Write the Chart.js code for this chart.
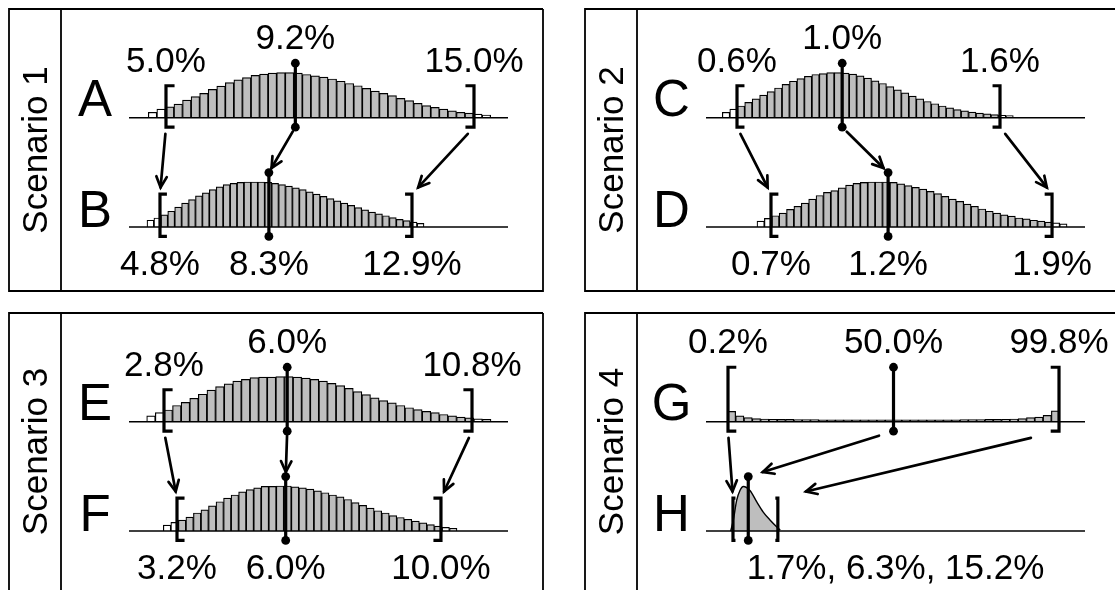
<!DOCTYPE html>
<html>
<head>
<meta charset="utf-8">
<script src="https://cdn.jsdelivr.net/npm/chart.js@4/dist/chart.umd.min.js"></script>
<style>
html,body{margin:0;padding:0;background:#ffffff;}
#wrap{position:relative;width:1115px;height:590px;overflow:hidden;background:#ffffff;}
#wrap canvas{position:absolute;left:0;top:0;}
</style>
</head>
<body>
<div id="wrap">
<canvas id="p1" width="1115" height="590"></canvas>
<canvas id="p2" width="1115" height="590"></canvas>
<canvas id="p3" width="1115" height="590"></canvas>
<canvas id="p4" width="1115" height="590"></canvas>
</div>
<script>
// ---------------- DATA ----------------
const scenarioNames = ['Scenario 1', 'Scenario 2', 'Scenario 3', 'Scenario 4'];
const rowLetters = ['A', 'B', 'C', 'D', 'E', 'F', 'G', 'H'];

// interval values in percent: [lower, median, upper]
const intervalA = [5.0, 9.2, 15.0];
const intervalB = [4.8, 8.3, 12.9];
const intervalC = [0.6, 1.0, 1.6];
const intervalD = [0.7, 1.2, 1.9];
const intervalE = [2.8, 6.0, 10.8];
const intervalF = [3.2, 6.0, 10.0];
const intervalG = [0.2, 50.0, 99.8];
const intervalH = [1.7, 6.3, 15.2];

// histogram bins (percent): first edge and bin width
const binStartA = 4.425,  binWidthA = 0.2779;
const binStartB = 4.382,  binWidthB = 0.2226;
const binStartC = 0.5441, binWidthC = 0.02837;
const binStartD = 0.6402, binWidthD = 0.03152;
const binStartE = 2.3506, binWidthE = 0.22357;
const binStartF = 2.847,  binWidthF = 0.194;
const binStartG = 0,      binWidthG = 2.5;

// relative bar heights (peak = 1)
const heightsA = [0.12,0.19,0.24,0.30,0.39,0.47,0.54,0.63,0.70,0.78,0.84,0.89,0.94,0.97,0.99,1.00,1.00,0.99,0.96,0.93,
                  0.90,0.86,0.81,0.76,0.71,0.65,0.59,0.54,0.49,0.43,0.38,0.32,0.27,0.23,0.19,0.15,0.12,0.10,0.08,0.06];
const heightsB = [0.15,0.20,0.27,0.35,0.44,0.53,0.61,0.69,0.76,0.83,0.89,0.94,0.97,0.99,1.00,1.00,1.00,0.99,0.97,0.94,
                  0.91,0.87,0.83,0.78,0.73,0.68,0.63,0.58,0.53,0.48,0.43,0.38,0.33,0.29,0.25,0.21,0.17,0.14,0.11,0.08];
const heightsC = [0.12,0.19,0.26,0.34,0.42,0.50,0.58,0.66,0.74,0.81,0.87,0.92,0.96,0.98,1.00,1.00,0.99,0.97,0.93,0.88,
                  0.82,0.76,0.69,0.62,0.55,0.48,0.42,0.36,0.31,0.26,0.22,0.18,0.15,0.125,0.10,0.085,0.07,0.055,0.045];
const heightsD = [0.13,0.19,0.25,0.31,0.39,0.46,0.53,0.62,0.70,0.77,0.81,0.87,0.93,0.97,0.99,1.00,1.00,1.00,0.99,0.96,
                  0.92,0.88,0.84,0.79,0.74,0.68,0.62,0.57,0.51,0.46,0.40,0.35,0.31,0.27,0.24,0.20,0.18,0.15,0.13,0.11,0.09,0.07];
const heightsE = [0.13,0.20,0.26,0.36,0.43,0.52,0.61,0.70,0.78,0.84,0.90,0.94,0.98,0.99,0.99,1.00,1.00,0.99,0.97,0.94,
                  0.90,0.85,0.80,0.74,0.67,0.60,0.53,0.47,0.42,0.36,0.31,0.27,0.23,0.20,0.16,0.13,0.10,0.085,0.065,0.05];
const heightsF = [0.13,0.19,0.24,0.31,0.40,0.47,0.56,0.65,0.73,0.80,0.87,0.92,0.96,0.99,0.99,1.00,1.00,0.98,0.96,0.93,
                  0.89,0.85,0.80,0.76,0.70,0.63,0.57,0.51,0.45,0.40,0.34,0.30,0.26,0.22,0.18,0.14,0.11,0.08,0.06];
const heightsG = [0.23,0.13,0.09,0.07,0.06,0.055,0.05,0.05,0.045,0.045,0.045,0.04,0.04,0.04,0.04,0.04,0.04,0.04,0.04,0.04,
                  0.04,0.04,0.04,0.04,0.04,0.04,0.04,0.04,0.045,0.045,0.045,0.05,0.05,0.055,0.06,0.07,0.09,0.10,0.14,0.24];

// density curve of H (percent, relative height)
const curveHx = [1.0, 1.8, 2.8, 3.8, 4.8, 6.8, 8.9, 10.8, 12.9, 14.9, 15.9];
const curveHy = [0.00, 0.24, 0.68, 0.90, 0.99, 0.90, 0.64, 0.42, 0.24, 0.09, 0.02];

// ---------------- LAYOUT / STYLE ----------------
const W = 1115, H = 590, UNIT = 45;
const GRAY = '#bebebe';
const FONT = '"Liberation Sans", Arial, Helvetica, sans-serif';
const layout = [
  {frame:{l:9,t:9,r:543,b:291},   div:61,  area:{l:129,r:508,t:9,b:291},   xTop:[3.799,16.104],  xBot:[3.804,15.986]},
  {frame:{l:585,t:9,r:1130,b:291}, div:637, area:{l:706,r:1085,t:9,b:291},  xTop:[0.4821,1.9232], xBot:[0.4225,2.0407]},
  {frame:{l:9,t:313,r:543,b:600},  div:61,  area:{l:129,r:508,t:313,b:590}, xTop:[1.891,11.735],  xBot:[1.9635,11.727]},
  {frame:{l:585,t:313,r:1130,b:600},div:637, area:{l:706,r:1085,t:313,b:590}, xTop:[-6.42,107.62], xBot:[-6.42,107.62]}
];
const TOP_OFF = 108.7, BOT_OFF = 218;

const panels = [
  {name: scenarioNames[0], letters:[rowLetters[0], rowLetters[1]],
   top:{iv:intervalA, start:binStartA, w:binWidthA, h:heightsA, brUp:0.71},
   bot:{iv:intervalB, start:binStartB, w:binWidthB, h:heightsB, brUp:0.73}},
  {name: scenarioNames[1], letters:[rowLetters[2], rowLetters[3]],
   top:{iv:intervalC, start:binStartC, w:binWidthC, h:heightsC, brUp:0.71},
   bot:{iv:intervalD, start:binStartD, w:binWidthD, h:heightsD, brUp:0.73}},
  {name: scenarioNames[2], letters:[rowLetters[4], rowLetters[5]],
   top:{iv:intervalE, start:binStartE, w:binWidthE, h:heightsE, brUp:0.71},
   bot:{iv:intervalF, start:binStartF, w:binWidthF, h:heightsF, brUp:0.73}},
  {name: scenarioNames[3], letters:[rowLetters[6], rowLetters[7]],
   top:{iv:intervalG, start:binStartG, w:binWidthG, h:heightsG, brUp:1.21},
   bot:{iv:intervalH, curveX:curveHx, curveY:curveHy, brUp:0.73, serif:0.75, combined:true}}
];

function fmt(v){ return v.toFixed(1) + '%'; }

function barDataset(row, xId, yId){
  const iv = row.iv;
  return {
    type:'bar', xAxisID:xId, yAxisID:yId,
    data: row.h.map((v,i) => ({x: row.start + (i + 0.5) * row.w, y: v})),
    backgroundColor: ctx => { const r = ctx.raw; if (!r) return GRAY; return (r.x >= iv[0] && r.x <= iv[2]) ? GRAY : '#ffffff'; },
    borderColor:'#000000', borderWidth:1.2, borderSkipped:'start',
    barPercentage:1, categoryPercentage:1, grouped:false
  };
}
function curveDataset(row, xId, yId){
  return {
    type:'line', xAxisID:xId, yAxisID:yId,
    data: row.curveX.map((x,i) => ({x:x, y:row.curveY[i]})),
    borderColor:'#000000', borderWidth:1.4, backgroundColor:GRAY,
    fill:'origin', pointRadius:0, cubicInterpolationMode:'monotone'
  };
}

function drawBracket(ctx, x, yT, yB, serif, dir){
  ctx.beginPath();
  ctx.moveTo(x + dir*serif, yT);
  ctx.lineTo(x, yT);
  ctx.lineTo(x, yB);
  ctx.lineTo(x + dir*serif, yB);
  ctx.stroke();
}
function drawArrow(ctx, x1, y1, x2, y2){
  const dx = x2 - x1, dy = y2 - y1;
  const sx = x1 + dx*0.1, sy = y1 + dy*0.1, ex = x2 - dx*0.1, ey = y2 - dy*0.1;
  ctx.beginPath(); ctx.moveTo(sx, sy); ctx.lineTo(ex, ey); ctx.stroke();
  const a = Math.atan2(ey - sy, ex - sx), L = 12, hA = 0.45;
  ctx.beginPath();
  ctx.moveTo(ex - L*Math.cos(a - hA), ey - L*Math.sin(a - hA));
  ctx.lineTo(ex, ey);
  ctx.lineTo(ex - L*Math.cos(a + hA), ey - L*Math.sin(a + hA));
  ctx.stroke();
}

const decor = {
  id:'decor',
  afterDatasetsDraw(chart, args, o){
    const ctx = chart.ctx, P = o.panel, L = o.lay, ca = chart.chartArea;
    ctx.save();
    ctx.strokeStyle = '#000'; ctx.fillStyle = '#000';
    const geo = ['t','b'].map(k => {
      const row = k === 't' ? P.top : P.bot;
      const xs = chart.scales['x' + k], ys = chart.scales['y' + k];
      const X = v => xs.getPixelForValue(v), Y = v => ys.getPixelForValue(v);
      const serifU = row.serif !== undefined ? row.serif : row.w;
      return {row, X, base:Y(0), brTop:Y(row.brUp), brBot:Y(-0.21), medTop:Y(1.21), medBot:Y(-0.21),
              serif: Math.abs(X(serifU) - X(0))};
    });
    // baselines
    ctx.lineWidth = 1.4;
    geo.forEach(g => { ctx.beginPath(); ctx.moveTo(ca.left, g.base); ctx.lineTo(ca.right, g.base); ctx.stroke(); });
    // brackets & medians
    geo.forEach(g => {
      const iv = g.row.iv;
      ctx.lineWidth = 3.2; ctx.lineCap = 'butt'; ctx.lineJoin = 'miter';
      drawBracket(ctx, g.X(iv[0]), g.brTop, g.brBot, g.serif, 1);
      drawBracket(ctx, g.X(iv[2]), g.brTop, g.brBot, g.serif, -1);
      const mx = g.X(iv[1]);
      ctx.beginPath(); ctx.moveTo(mx, g.medTop); ctx.lineTo(mx, g.medBot); ctx.stroke();
      [g.medTop, g.medBot].forEach(y => { ctx.beginPath(); ctx.arc(mx, y, 4.4, 0, Math.PI*2); ctx.fill(); });
    });
    // arrows
    const gt = geo[0], gb = geo[1];
    ctx.lineWidth = 2.7; ctx.lineCap = 'round';
    for (let k = 0; k < 3; k++){
      const y1 = k === 1 ? gt.medBot : gt.brBot;
      const y2 = k === 1 ? gb.medTop : gb.brTop;
      drawArrow(ctx, gt.X(gt.row.iv[k]), y1, gb.X(gb.row.iv[k]), y2);
    }
    // value labels
    ctx.font = '35px ' + FONT; ctx.textAlign = 'center'; ctx.textBaseline = 'alphabetic';
    const ti = gt.row.iv;
    ctx.fillText(fmt(ti[0]), gt.X(ti[0]), gt.brTop - 14);
    ctx.fillText(fmt(ti[2]), gt.X(ti[2]), gt.brTop - 14);
    ctx.fillText(fmt(ti[1]), gt.X(ti[1]), gt.medTop - 14);
    const bi = gb.row.iv, by = gb.brBot + 39;
    if (gb.row.combined){
      ctx.fillText(bi.map(fmt).join(', '), (ca.left + ca.right) / 2, by);
    } else {
      bi.forEach(v => ctx.fillText(fmt(v), gb.X(v), by));
    }
    // row letters
    ctx.font = '51px ' + FONT;
    const lx = (L.div + ca.left) / 2;
    ctx.fillText(P.letters[0], lx, gt.base - 1.5);
    ctx.fillText(P.letters[1], lx, gb.base - 0.5);
    // frame
    const f = L.frame;
    ctx.lineWidth = 1.8; ctx.lineCap = 'butt';
    ctx.beginPath();
    ctx.moveTo(f.r, f.t); ctx.lineTo(f.l, f.t); ctx.lineTo(f.l, f.b); ctx.lineTo(f.r, f.b); ctx.lineTo(f.r, f.t);
    ctx.moveTo(L.div, f.t); ctx.lineTo(L.div, f.b);
    ctx.stroke();
    // scenario label (rotated)
    ctx.save();
    ctx.font = '35px ' + FONT;
    ctx.translate(f.l + 38, (f.t + Math.min(f.b, H)) / 2);
    ctx.rotate(-Math.PI / 2);
    ctx.textAlign = 'center'; ctx.textBaseline = 'alphabetic';
    ctx.fillText(P.name, 0, 0);
    ctx.restore();
    ctx.restore();
  }
};

function yRange(area, basePx){ return {min: -(area.b - basePx) / UNIT, max: (basePx - area.t) / UNIT}; }

panels.forEach((P, idx) => {
  const L = layout[idx], a = L.area;
  const yt = yRange(a, a.t + TOP_OFF), yb = yRange(a, a.t + BOT_OFF);
  const datasets = [barDataset(P.top, 'xt', 'yt')];
  datasets.push(P.bot.curveX ? curveDataset(P.bot, 'xb', 'yb') : barDataset(P.bot, 'xb', 'yb'));
  new Chart(document.getElementById('p' + (idx + 1)), {
    type:'bar',
    data:{datasets},
    options:{
      responsive:false, animation:false, devicePixelRatio:1,
      layout:{padding:{left:a.l, right:W - a.r, top:a.t, bottom:H - a.b}},
      plugins:{legend:{display:false}, tooltip:{enabled:false}, decor:{panel:P, lay:L}},
      scales:{
        xt:{type:'linear', axis:'x', display:false, offset:false, min:L.xTop[0], max:L.xTop[1]},
        xb:{type:'linear', axis:'x', display:false, offset:false, min:L.xBot[0], max:L.xBot[1]},
        yt:{type:'linear', axis:'y', display:false, min:yt.min, max:yt.max},
        yb:{type:'linear', axis:'y', display:false, min:yb.min, max:yb.max}
      }
    },
    plugins:[decor]
  });
});
</script>
</body>
</html>
